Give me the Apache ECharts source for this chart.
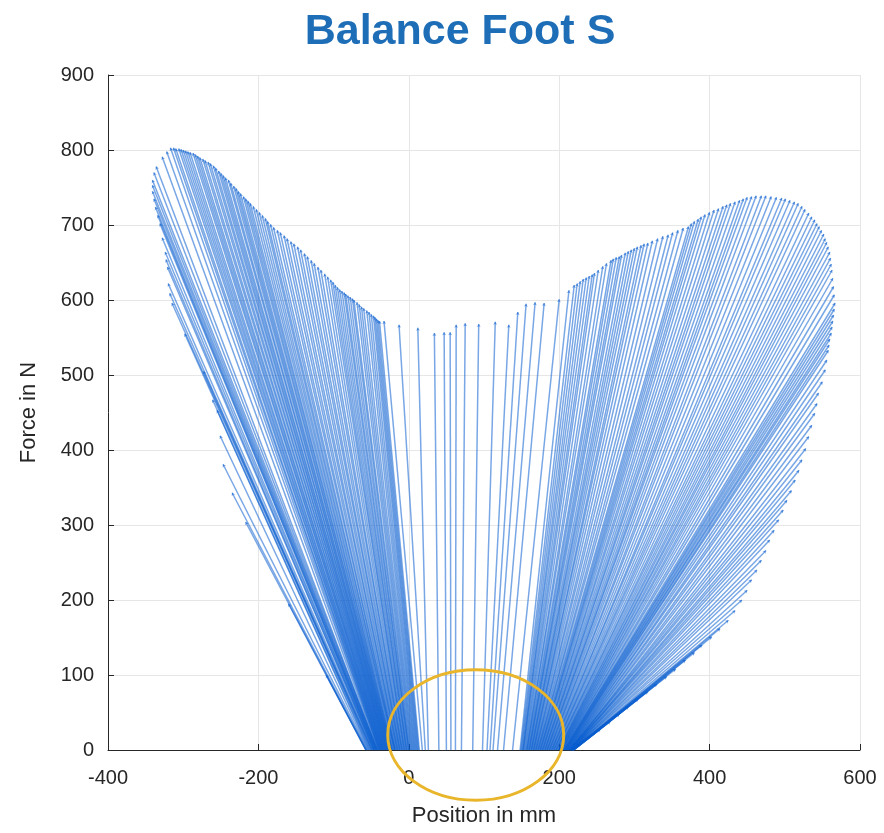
<!DOCTYPE html>
<html>
<head>
<meta charset="utf-8">
<script src="https://cdn.jsdelivr.net/npm/echarts@6/dist/echarts.min.js"></script>
<style>
  html, body { margin: 0; padding: 0; background: #fff; }
  #chart { width: 884px; height: 833px; }
</style>
</head>
<body>
<div id="chart"></div>
<script>
// force vectors, in time order: centre of pressure on the ground (baseX, mm)
// to the tip of the force vector (tipX mm, tipY N)
const baseX = [
  // heel loading
  -57, -57, -57, -56, -55, -54, -53, -52, -51, -50, -49, -49, -48, -47, -47, -46, -46, -45, -45, -44,
  -44, -43, -43, -42, -42, -42,
  // heel to midfoot
  -41, -40, -40, -39, -39, -38, -38, -37, -37, -36, -36, -35, -35, -34, -34, -33, -33, -32, -32, -31,
  -31, -30, -30, -29, -29, -28, -28, -27, -27, -26, -26, -25, -25, -24, -24, -23, -23, -22, -22, -21,
  -20, -19, -19, -18, -18, -17, -16, -15, -15, -14, -13, -12, -12, -11, -10, -9, -9, -8, -7, -6,
  -6, -5, -4, -3, -3, -2, -1, 0, 0, 1, 2, 3, 4, 5, 6, 7, 8, 9, 10, 11,
  12, 13, 14, 18,
  // midstance
  22, 26, 40, 50, 56, 62, 70, 85, 98, 104, 108, 112, 118, 126, 138, 148,
  // push-off
  149, 150, 151, 152, 152, 153, 154, 155, 156, 157, 157, 158, 159, 160, 160, 161, 162, 163, 163, 164,
  165, 166, 166, 167, 168, 169, 169, 170, 171, 172, 172, 173, 174, 175, 175, 176, 177, 178, 178, 179,
  180, 181, 181, 182, 183, 184, 184, 185, 186, 187, 187, 188, 189, 190, 190, 191, 192, 193, 193, 194,
  195, 196, 196, 197, 198, 199, 199, 200, 200, 201, 201, 202, 202, 203, 203, 204, 204, 205,
  // unloading
  206, 206, 207, 207, 208, 208, 209, 209, 210, 210, 211, 211, 212, 212, 213, 213, 214, 214, 214, 214,
  215, 215, 215, 215, 216, 216, 216, 216, 217, 217, 217, 217, 218, 218, 218, 218, 218, 218, 218, 218,
  219, 219, 219, 219, 219, 219, 219, 219
];
const tipX = [
  -110, -160, -217, -235, -247, -251, -255, -261, -273, -298, -315, -318, -320, -321, -323, -324, -328, -331, -334, -337,
  -339, -341, -341, -341, -339, -336,

  -328, -322, -317, -313, -310, -306, -303, -300, -297, -294, -291, -287, -284, -281, -278, -274, -271, -267, -264, -260,
  -257, -253, -250, -247, -244, -240, -237, -233, -230, -227, -224, -220, -217, -214, -211, -207, -203, -199, -195, -191,
  -188, -184, -180, -175, -171, -166, -162, -157, -153, -148, -144, -139, -135, -130, -126, -121, -117, -112, -108, -104,
  -101, -98, -95, -92, -89, -86, -84, -81, -78, -75, -73, -69, -66, -63, -60, -56, -53, -50, -47, -45,
  -43, -41, -39, -33,

  -13, 12, 34, 47, 55, 63, 75, 93, 115, 133, 145, 156, 168, 180, 200, 213,

  220, 224, 228, 232, 236, 240, 244, 247, 252, 258, 263, 269, 272, 276, 280, 283, 288, 292, 296, 300,
  304, 309, 313, 318, 324, 331, 338, 345, 351, 358, 365, 372, 376, 380, 385, 389, 394, 400, 406, 412,
  418, 423, 428, 434, 440, 445, 450, 456, 462, 469, 475, 482, 489, 496, 501, 507, 513, 518, 523, 527,
  532, 536, 540, 543, 546, 549, 552, 554, 556, 558, 560, 561, 562, 563, 564, 565, 566, 567,

  566, 565, 564, 563, 562, 560, 559, 558, 556, 554, 550, 545, 543, 540, 536, 532, 528, 523, 519, 514,
  509, 503, 498, 492, 486, 480, 475, 469, 463, 456, 450, 443, 434, 425, 414, 403, 390, 380, 368, 355,
  343, 330, 318, 305, 292, 280, 268, 255
];
const tipY = [
  100, 195, 304, 343, 381, 419, 453, 467, 505, 555, 596, 609, 622, 644, 654, 664, 683, 702, 713, 724,
  735, 745, 753, 760, 770, 778,

  791, 798, 803, 803, 802, 802, 801, 800, 799, 798, 797, 796, 794, 792, 790, 788, 786, 784, 782, 779,
  776, 772, 769, 766, 763, 760, 756, 752, 749, 745, 742, 738, 735, 732, 729, 725, 721, 717, 713, 709,
  705, 701, 697, 693, 690, 686, 682, 678, 675, 671, 667, 662, 658, 653, 649, 644, 640, 635, 631, 627,
  624, 620, 617, 614, 612, 610, 608, 606, 604, 602, 600, 597, 594, 591, 589, 586, 584, 581, 579, 577,
  575, 573, 572, 572,

  567, 563, 556, 557, 557, 567, 569, 568, 571, 567, 584, 595, 597, 596, 601, 613,

  620, 622, 625, 628, 630, 632, 634, 636, 640, 645, 649, 653, 655, 657, 658, 660, 663, 665, 667, 669,
  671, 673, 675, 676, 679, 682, 685, 687, 690, 693, 696, 698, 702, 705, 708, 711, 714, 717, 720, 722,
  725, 727, 729, 731, 733, 735, 737, 738, 739, 739, 739, 738, 737, 736, 735, 733, 731, 729, 725, 721,
  716, 711, 707, 702, 698, 693, 688, 682, 677, 671, 664, 656, 648, 640, 629, 618, 607, 596,

  588, 580, 572, 564, 556, 548, 540, 533, 520, 507, 491, 476, 462, 449, 433, 418, 402, 387, 373, 360,
  346, 333, 320, 307, 293, 280, 266, 253, 240, 227, 213, 200, 186, 173, 162, 151, 140, 130, 120, 108,
  98, 88, 78, 68, 58, 48, 38, 28
];

// highlighted region (data units): centre and radii
const ringCenter = [89, 20];
const ringRadius = [117, 87];

const vectors = baseX.map((b, i) => ({ coords: [[b, 0], [tipX[i], tipY[i]]] }));

const font = 'Liberation Sans, Arial, Helvetica, sans-serif';
const ink = '#262626';

const chart = echarts.init(document.getElementById('chart'));
chart.setOption({
  animation: false,
  backgroundColor: '#fff',
  title: {
    text: 'Balance Foot S',
    left: 455,
    textAlign: 'center',
    top: 6,
    textStyle: { fontFamily: font, fontSize: 43, fontWeight: 'bold', color: '#1d6db7' }
  },
  grid: { left: 108, top: 75, right: 24, bottom: 83 },
  xAxis: {
    type: 'value',
    min: -400, max: 600, interval: 200,
    name: 'Position in mm',
    nameLocation: 'middle',
    nameGap: 55,
    nameTextStyle: { fontFamily: font, fontSize: 22, color: ink },
    axisLine: { show: true, onZero: false, lineStyle: { color: ink, width: 1 } },
    axisTick: { show: true, inside: true, length: 6, lineStyle: { color: ink } },
    axisLabel: { fontFamily: font, fontSize: 20, color: ink, margin: 18 },
    splitLine: { show: true, lineStyle: { color: '#e6e6e6', width: 1 } }
  },
  yAxis: {
    type: 'value',
    min: 0, max: 900, interval: 100,
    name: 'Force in N',
    nameLocation: 'middle',
    nameGap: 68,
    nameTextStyle: { fontFamily: font, fontSize: 22, color: ink },
    axisLine: { show: true, onZero: false, lineStyle: { color: ink, width: 1 } },
    axisTick: { show: true, inside: true, length: 6, lineStyle: { color: ink } },
    axisLabel: { fontFamily: font, fontSize: 20, color: ink, margin: 14 },
    splitLine: { show: true, lineStyle: { color: '#e6e6e6', width: 1 } }
  },
  series: [{
    type: 'lines',
    coordinateSystem: 'cartesian2d',
    symbol: ['none', 'arrow'],
    symbolSize: 3,
    lineStyle: { color: '#0b5fd0', width: 1.5, opacity: 0.55 },
    data: vectors
  }]
});

// yellow ring drawn on top, placed through the axes' own scales
const c = chart.convertToPixel({ gridIndex: 0 }, ringCenter);
const e = chart.convertToPixel({ gridIndex: 0 }, [ringCenter[0] + ringRadius[0], ringCenter[1] + ringRadius[1]]);
chart.setOption({
  graphic: [{
    type: 'ellipse',
    z: 100,
    shape: { cx: c[0], cy: c[1], rx: Math.abs(e[0] - c[0]), ry: Math.abs(c[1] - e[1]) },
    style: { fill: 'none', stroke: '#e9b52a', lineWidth: 3 }
  }]
});
</script>
</body>
</html>
